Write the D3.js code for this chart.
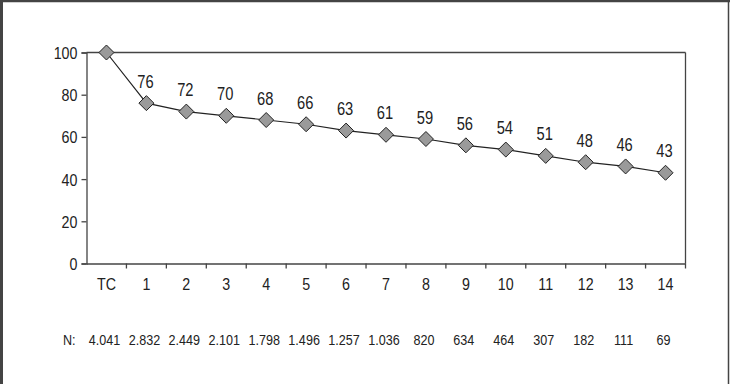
<!DOCTYPE html>
<html><head><meta charset="utf-8">
<script src="https://cdn.jsdelivr.net/npm/d3@7"></script>
<style>
html,body{margin:0;padding:0;background:#fff;}
svg{display:block;}
text{font-family:"Liberation Sans","Arial",sans-serif;fill:#222;}
</style></head>
<body>
<script>
const categories = ["TC","1","2","3","4","5","6","7","8","9","10","11","12","13","14"];
const values = [100,76,72,70,68,66,63,61,59,56,54,51,48,46,43];
const nLabels = ["4.041","2.832","2.449","2.101","1.798","1.496","1.257","1.036","820","634","464","307","182","111","69"];
const yTicks = [0,20,40,60,80,100];

(function(){
const W = 730, H = 384;
const SX = 0.84; // horizontal condensation to mimic a narrow face
const svg = d3.select("body").append("svg").attr("width", W).attr("height", H);

// outer frame
svg.append("rect").attr("x",0).attr("y",0).attr("width",W).attr("height",H).attr("fill","#fff");
svg.append("line").attr("x1",1.5).attr("x2",1.5).attr("y1",0).attr("y2",H).attr("stroke","#444").attr("stroke-width",3);
svg.append("line").attr("x1",0).attr("x2",W).attr("y1",1).attr("y2",1).attr("stroke","#444").attr("stroke-width",2.5);
svg.append("line").attr("x1",728.5).attr("x2",728.5).attr("y1",0).attr("y2",H).attr("stroke","#444").attr("stroke-width",1.5);

const pLeft = 86.5, pRight = 685.5, pTop = 52.5, pBottom = 263.5;
const x = d3.scaleBand().domain(categories).range([pLeft, pRight]).padding(0);
const y = d3.scaleLinear().domain([0,100]).range([pBottom, pTop]);

const axisColor = "#444";

// plot box top and right
svg.append("line").attr("x1",pLeft).attr("x2",pRight).attr("y1",y(100)).attr("y2",y(100)).attr("stroke",axisColor).attr("stroke-width",1.3);
svg.append("line").attr("x1",pRight).attr("x2",pRight).attr("y1",pTop).attr("y2",pBottom).attr("stroke",axisColor).attr("stroke-width",1.3);

function condense(sel){
  // sel: selection of tick groups' text; wrap scale in place
  sel.each(function(){
    const t = d3.select(this);
    const tx = +t.attr("x")||0, ty = +t.attr("y")||0;
    t.attr("transform", `translate(${tx},${ty}) scale(${SX},1)`).attr("x",0).attr("y",0);
  });
}

// y axis
const yAxis = d3.axisLeft(y).tickValues(yTicks).tickSize(5).tickPadding(4).tickFormat(d3.format("d"));
const gy = svg.append("g").attr("transform",`translate(${pLeft},0)`).call(yAxis);
gy.select(".domain").attr("stroke",axisColor).attr("stroke-width",1.3);
gy.selectAll(".tick line").attr("stroke",axisColor).attr("stroke-width",1.3);
gy.selectAll(".tick text").style("font-size","17px").attr("fill","#222").attr("dy","0.35em");
condense(gy.selectAll(".tick text"));

// x axis
const xAxis = d3.axisBottom(x).tickSize(0).tickPadding(14);
const gx = svg.append("g").attr("transform",`translate(0,${pBottom})`).call(xAxis);
gx.select(".domain").attr("stroke",axisColor).attr("stroke-width",1.3);
gx.selectAll(".tick text").style("font-size","17px").attr("fill","#222");
condense(gx.selectAll(".tick text"));
// x ticks at band boundaries
const bounds = categories.slice(1).map(c => x(c)).concat([pRight]);
svg.append("g").selectAll("line").data(bounds).join("line")
  .attr("x1",d=>d).attr("x2",d=>d).attr("y1",pBottom).attr("y2",pBottom+5)
  .attr("stroke",axisColor).attr("stroke-width",1.3);

// line
const cx = c => x(c) + x.bandwidth()/2;
const line = d3.line().x((d,i)=>cx(categories[i])).y(d=>y(d));
svg.append("path").datum(values).attr("d",line).attr("fill","none").attr("stroke","#222").attr("stroke-width",1.2);

// markers
const r = 7.5;
svg.append("g").selectAll("path").data(values).join("path")
  .attr("d",(d,i)=>{const X=cx(categories[i]),Y=y(d);return `M${X},${Y-r}L${X+r},${Y}L${X},${Y+r}L${X-r},${Y}Z`;})
  .attr("fill","#9a9a9a").attr("stroke","#222").attr("stroke-width",1);

// data labels (skip TC)
svg.append("g").selectAll("text").data(values.slice(1)).join("text")
  .attr("transform",(d,i)=>`translate(${cx(categories[i+1]) - 1},${y(d)-15.5}) scale(${SX},1)`)
  .attr("text-anchor","middle").style("font-size","17.5px").text(d=>d);

// N row
svg.append("text").attr("transform",`translate(63,345) scale(${SX},1)`).style("font-size","15px").text("N:");
svg.append("g").selectAll("text").data(nLabels).join("text")
  .attr("transform",(d,i)=>`translate(${cx(categories[i]) - 2},345) scale(${SX},1)`)
  .attr("text-anchor","middle").style("font-size","15px").text(d=>d);
})();
</script>
</body></html>
